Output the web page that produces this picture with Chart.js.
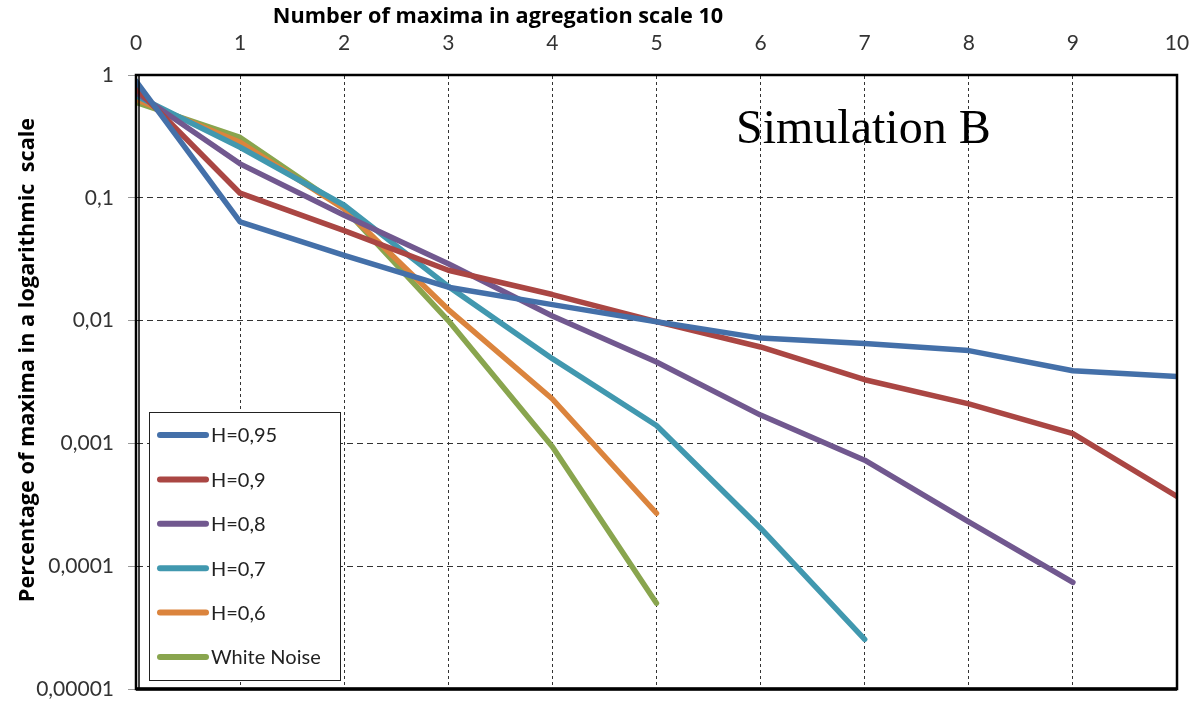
<!DOCTYPE html>
<html>
<head>
<meta charset="utf-8">
<script src="https://cdn.jsdelivr.net/npm/chart.js@4/dist/chart.umd.min.js"></script>
<style>
  html, body { margin: 0; padding: 0; background: #fff; }
  canvas { display: block; }
</style>
</head>
<body>
<canvas id="maximaChart" width="1190" height="701"></canvas>
<script>
// values (log scale)
const xValues = [0, 1, 2, 3, 4, 5, 6, 7, 8, 9, 10];
const yTickValues = [1, 0.1, 0.01, 0.001, 0.0001, 0.00001];
const yTickLabels = ['1', '0,1', '0,01', '0,001', '0,0001', '0,00001'];

const seriesNames = ['H=0,95', 'H=0,9', 'H=0,8', 'H=0,7', 'H=0,6', 'White Noise'];
const seriesColors = ['#4470A9', '#AA4643', '#71588F', '#4198AF', '#DB843D', '#89A54E'];

const h095 = [0.89, 0.0636, 0.034, 0.0187, 0.0135, 0.0098, 0.0072, 0.0065, 0.0057, 0.0039, 0.0035];
const h09 = [0.78, 0.109, 0.054, 0.0257, 0.0163, 0.0098, 0.0061, 0.0033, 0.0021, 0.0012, 0.00037];
const h08 = [0.72, 0.189, 0.072, 0.029, 0.0109, 0.0046, 0.0017, 0.00073, 0.00023, 0.000074];
const h07 = [0.68, 0.258, 0.087, 0.019, 0.0049, 0.0014, 0.000204, 0.0000254];
const h06 = [0.635, 0.283, 0.081, 0.0123, 0.0023, 0.00027];
const whiteNoise = [0.60, 0.31, 0.082, 0.0100, 0.00094, 0.00005];

const seriesValues = [h095, h09, h08, h07, h06, whiteNoise];

const FONT = 'Lato, "Open Sans", sans-serif';
const TITLE_FONT = 'bold 21.7px "Open Sans", Lato, sans-serif';

const datasets = seriesValues.map((vals, i) => ({
    label: seriesNames[i],
    data: vals.map((v, j) => ({ x: xValues[j], y: v })),
    borderColor: seriesColors[i],
    backgroundColor: seriesColors[i],
    borderWidth: 5.5,
    borderCapStyle: 'round',
    borderJoinStyle: 'round',
    pointRadius: 0,
    tension: 0,
    fill: false
}));

// titles, frame and legend drawn on top
const decorPlugin = {
    id: 'decor',
    afterDatasetsDraw(chart) {
        const { ctx, chartArea: a } = chart;
        ctx.save();
        ctx.strokeStyle = '#000';
        ctx.lineWidth = 2.5;
        ctx.strokeRect(a.left, a.top, a.right - a.left, a.bottom - a.top);
        ctx.lineWidth = 1.5;
        ctx.beginPath();
        ctx.moveTo(a.left + 3, a.top);
        ctx.lineTo(a.left + 3, a.bottom);
        ctx.stroke();
        ctx.lineWidth = 3.5;
        ctx.beginPath();
        ctx.moveTo(a.left, a.bottom);
        ctx.lineTo(a.right, a.bottom);
        ctx.stroke();
        ctx.restore();
    },
    afterDraw(chart) {
        const { ctx } = chart;
        ctx.save();

        // axis titles
        ctx.fillStyle = '#000';
        ctx.font = TITLE_FONT;
        ctx.textAlign = 'center';
        ctx.textBaseline = 'middle';
        ctx.fillText('Number of maxima in agregation scale 10', 498, 17);

        ctx.save();
        ctx.translate(28, 360);
        ctx.rotate(-Math.PI / 2);
        ctx.fillText('Percentage of maxima in a logarithmic  scale', 0, 0);
        ctx.restore();

        // annotation
        ctx.font = '48px "Liberation Serif", serif';
        ctx.textAlign = 'left';
        ctx.textBaseline = 'alphabetic';
        ctx.fillText('Simulation B', 736, 143);

        // legend box
        const bx = 149, by = 412, bw = 191, bh = 268;
        ctx.fillStyle = '#fff';
        ctx.fillRect(bx, by, bw, bh);
        ctx.strokeStyle = '#222';
        ctx.lineWidth = 1;
        ctx.strokeRect(bx + 0.5, by + 0.5, bw, bh);

        ctx.font = '20px ' + FONT;
        ctx.textBaseline = 'middle';
        chart.data.datasets.forEach((ds, i) => {
            const y = 435 + i * 44.4;
            ctx.strokeStyle = ds.borderColor;
            ctx.lineWidth = 6;
            ctx.lineCap = 'round';
            ctx.beginPath();
            ctx.moveTo(160, y);
            ctx.lineTo(206, y);
            ctx.stroke();
            ctx.fillStyle = '#222';
            ctx.fillText(ds.label, 211, y + 1);
        });
        ctx.restore();
    }
};

new Chart(document.getElementById('maximaChart'), {
    type: 'line',
    data: { datasets: datasets },
    options: {
        responsive: false,
        animation: false,
        layout: { padding: { left: 0, top: 0, right: 13, bottom: 12 } },
        plugins: {
            legend: { display: false },
            tooltip: { enabled: false }
        },
        scales: {
            x: {
                type: 'linear',
                position: 'top',
                min: 0,
                max: 10,
                afterFit(scale) {
                    scale.height = 75;
                    scale.paddingLeft = 0;
                    scale.paddingRight = 0;
                },
                ticks: {
                    stepSize: 1,
                    padding: 19,
                    color: '#333',
                    font: { family: FONT, size: 21 }
                },
                grid: {
                    color: '#333',
                    lineWidth: 1,
                    drawTicks: false
                },
                border: { display: true, color: '#000', width: 2, dash: [3, 3] }
            },
            y: {
                type: 'logarithmic',
                min: 0.00001,
                max: 1,
                afterFit(scale) {
                    scale.width = 136;
                    scale.paddingTop = 0;
                    scale.paddingBottom = 0;
                },
                afterBuildTicks(scale) {
                    scale.ticks = yTickValues.map(v => ({ value: v }));
                },
                ticks: {
                    padding: 14,
                    color: '#333',
                    font: { family: FONT, size: 21 },
                    callback(value) {
                        const idx = yTickValues.findIndex(v => Math.abs(v - value) < v * 1e-6);
                        return idx >= 0 ? yTickLabels[idx] : '';
                    }
                },
                grid: {
                    color: '#333',
                    lineWidth: 1,
                    tickLength: 8,
                    tickColor: '#999'
                },
                border: { display: true, color: '#000', width: 2, dash: [6, 4] }
            }
        }
    },
    plugins: [decorPlugin]
});
</script>
</body>
</html>
